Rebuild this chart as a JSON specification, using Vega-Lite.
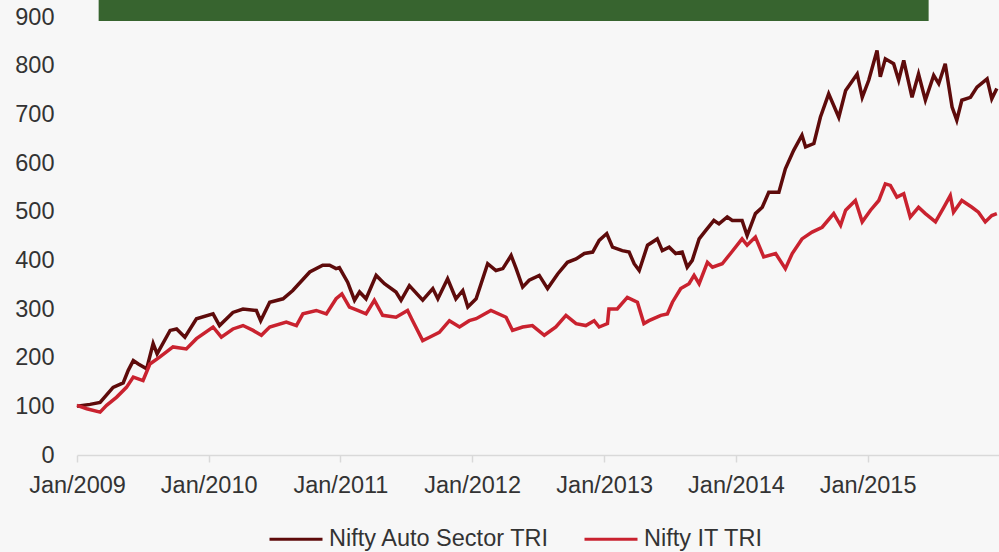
{
  "$schema": "https://vega.github.io/schema/vega-lite/v6.json",
  "width": 922,
  "height": 438,
  "autosize": {"type": "none"},
  "padding": {"left": 77, "top": 17, "right": 0, "bottom": 97},
  "background": "#f7f7f7",
  "config": {
    "font": "Liberation Sans",
    "view": {"stroke": null},
    "axis": {"labelFont": "Liberation Sans", "labelColor": "#333333", "labelFontSize": 23.5, "grid": false},
    "legend": {"labelFont": "Liberation Sans", "labelColor": "#333333", "labelFontSize": 23.5, "labelLimit": 500}
  },
  "datasets": {
    "tri": [
      {"date": "2009-01-01", "series": "Nifty Auto Sector TRI", "value": 100},
      {"date": "2009-02-06", "series": "Nifty Auto Sector TRI", "value": 104},
      {"date": "2009-03-06", "series": "Nifty Auto Sector TRI", "value": 108},
      {"date": "2009-04-11", "series": "Nifty Auto Sector TRI", "value": 139},
      {"date": "2009-05-09", "series": "Nifty Auto Sector TRI", "value": 148},
      {"date": "2009-05-23", "series": "Nifty Auto Sector TRI", "value": 174},
      {"date": "2009-06-06", "series": "Nifty Auto Sector TRI", "value": 194},
      {"date": "2009-06-20", "series": "Nifty Auto Sector TRI", "value": 187},
      {"date": "2009-07-13", "series": "Nifty Auto Sector TRI", "value": 177},
      {"date": "2009-07-31", "series": "Nifty Auto Sector TRI", "value": 229},
      {"date": "2009-08-11", "series": "Nifty Auto Sector TRI", "value": 208},
      {"date": "2009-09-16", "series": "Nifty Auto Sector TRI", "value": 256},
      {"date": "2009-10-04", "series": "Nifty Auto Sector TRI", "value": 259},
      {"date": "2009-10-27", "series": "Nifty Auto Sector TRI", "value": 242},
      {"date": "2009-11-28", "series": "Nifty Auto Sector TRI", "value": 280},
      {"date": "2010-01-13", "series": "Nifty Auto Sector TRI", "value": 290},
      {"date": "2010-01-31", "series": "Nifty Auto Sector TRI", "value": 266},
      {"date": "2010-03-09", "series": "Nifty Auto Sector TRI", "value": 293},
      {"date": "2010-04-06", "series": "Nifty Auto Sector TRI", "value": 300},
      {"date": "2010-05-13", "series": "Nifty Auto Sector TRI", "value": 297},
      {"date": "2010-05-25", "series": "Nifty Auto Sector TRI", "value": 276},
      {"date": "2010-06-19", "series": "Nifty Auto Sector TRI", "value": 314},
      {"date": "2010-07-26", "series": "Nifty Auto Sector TRI", "value": 321},
      {"date": "2010-08-22", "series": "Nifty Auto Sector TRI", "value": 338},
      {"date": "2010-10-08", "series": "Nifty Auto Sector TRI", "value": 376},
      {"date": "2010-11-13", "series": "Nifty Auto Sector TRI", "value": 390},
      {"date": "2010-12-02", "series": "Nifty Auto Sector TRI", "value": 390},
      {"date": "2010-12-20", "series": "Nifty Auto Sector TRI", "value": 383},
      {"date": "2010-12-29", "series": "Nifty Auto Sector TRI", "value": 385},
      {"date": "2011-01-21", "series": "Nifty Auto Sector TRI", "value": 355},
      {"date": "2011-02-09", "series": "Nifty Auto Sector TRI", "value": 318},
      {"date": "2011-02-23", "series": "Nifty Auto Sector TRI", "value": 335},
      {"date": "2011-03-13", "series": "Nifty Auto Sector TRI", "value": 321},
      {"date": "2011-04-10", "series": "Nifty Auto Sector TRI", "value": 369},
      {"date": "2011-05-03", "series": "Nifty Auto Sector TRI", "value": 352},
      {"date": "2011-06-04", "series": "Nifty Auto Sector TRI", "value": 335},
      {"date": "2011-06-18", "series": "Nifty Auto Sector TRI", "value": 318},
      {"date": "2011-07-11", "series": "Nifty Auto Sector TRI", "value": 348},
      {"date": "2011-08-17", "series": "Nifty Auto Sector TRI", "value": 318},
      {"date": "2011-09-14", "series": "Nifty Auto Sector TRI", "value": 342},
      {"date": "2011-09-28", "series": "Nifty Auto Sector TRI", "value": 321},
      {"date": "2011-10-25", "series": "Nifty Auto Sector TRI", "value": 362},
      {"date": "2011-11-17", "series": "Nifty Auto Sector TRI", "value": 321},
      {"date": "2011-12-06", "series": "Nifty Auto Sector TRI", "value": 338},
      {"date": "2011-12-20", "series": "Nifty Auto Sector TRI", "value": 304},
      {"date": "2012-01-12", "series": "Nifty Auto Sector TRI", "value": 321},
      {"date": "2012-02-13", "series": "Nifty Auto Sector TRI", "value": 393},
      {"date": "2012-03-07", "series": "Nifty Auto Sector TRI", "value": 379},
      {"date": "2012-03-26", "series": "Nifty Auto Sector TRI", "value": 383},
      {"date": "2012-04-18", "series": "Nifty Auto Sector TRI", "value": 410},
      {"date": "2012-05-02", "series": "Nifty Auto Sector TRI", "value": 383},
      {"date": "2012-05-20", "series": "Nifty Auto Sector TRI", "value": 345},
      {"date": "2012-06-07", "series": "Nifty Auto Sector TRI", "value": 359},
      {"date": "2012-07-05", "series": "Nifty Auto Sector TRI", "value": 369},
      {"date": "2012-07-28", "series": "Nifty Auto Sector TRI", "value": 342},
      {"date": "2012-08-25", "series": "Nifty Auto Sector TRI", "value": 372},
      {"date": "2012-09-21", "series": "Nifty Auto Sector TRI", "value": 396},
      {"date": "2012-10-15", "series": "Nifty Auto Sector TRI", "value": 403},
      {"date": "2012-11-07", "series": "Nifty Auto Sector TRI", "value": 414},
      {"date": "2012-11-30", "series": "Nifty Auto Sector TRI", "value": 417},
      {"date": "2012-12-18", "series": "Nifty Auto Sector TRI", "value": 441},
      {"date": "2013-01-08", "series": "Nifty Auto Sector TRI", "value": 455},
      {"date": "2013-01-24", "series": "Nifty Auto Sector TRI", "value": 427},
      {"date": "2013-02-20", "series": "Nifty Auto Sector TRI", "value": 420},
      {"date": "2013-03-11", "series": "Nifty Auto Sector TRI", "value": 417},
      {"date": "2013-03-25", "series": "Nifty Auto Sector TRI", "value": 393},
      {"date": "2013-04-08", "series": "Nifty Auto Sector TRI", "value": 379},
      {"date": "2013-05-01", "series": "Nifty Auto Sector TRI", "value": 431},
      {"date": "2013-05-28", "series": "Nifty Auto Sector TRI", "value": 444},
      {"date": "2013-06-11", "series": "Nifty Auto Sector TRI", "value": 420},
      {"date": "2013-06-30", "series": "Nifty Auto Sector TRI", "value": 427},
      {"date": "2013-07-18", "series": "Nifty Auto Sector TRI", "value": 414},
      {"date": "2013-08-05", "series": "Nifty Auto Sector TRI", "value": 417},
      {"date": "2013-08-19", "series": "Nifty Auto Sector TRI", "value": 386},
      {"date": "2013-09-02", "series": "Nifty Auto Sector TRI", "value": 400},
      {"date": "2013-09-21", "series": "Nifty Auto Sector TRI", "value": 444},
      {"date": "2013-10-09", "series": "Nifty Auto Sector TRI", "value": 461},
      {"date": "2013-11-01", "series": "Nifty Auto Sector TRI", "value": 482},
      {"date": "2013-11-15", "series": "Nifty Auto Sector TRI", "value": 475},
      {"date": "2013-12-08", "series": "Nifty Auto Sector TRI", "value": 489},
      {"date": "2013-12-22", "series": "Nifty Auto Sector TRI", "value": 482},
      {"date": "2014-01-18", "series": "Nifty Auto Sector TRI", "value": 482},
      {"date": "2014-02-01", "series": "Nifty Auto Sector TRI", "value": 451},
      {"date": "2014-02-24", "series": "Nifty Auto Sector TRI", "value": 496},
      {"date": "2014-03-15", "series": "Nifty Auto Sector TRI", "value": 509},
      {"date": "2014-04-02", "series": "Nifty Auto Sector TRI", "value": 540},
      {"date": "2014-04-30", "series": "Nifty Auto Sector TRI", "value": 540},
      {"date": "2014-05-18", "series": "Nifty Auto Sector TRI", "value": 588},
      {"date": "2014-06-10", "series": "Nifty Auto Sector TRI", "value": 626},
      {"date": "2014-07-03", "series": "Nifty Auto Sector TRI", "value": 657},
      {"date": "2014-07-13", "series": "Nifty Auto Sector TRI", "value": 633},
      {"date": "2014-08-05", "series": "Nifty Auto Sector TRI", "value": 640},
      {"date": "2014-08-23", "series": "Nifty Auto Sector TRI", "value": 694},
      {"date": "2014-09-15", "series": "Nifty Auto Sector TRI", "value": 742},
      {"date": "2014-10-13", "series": "Nifty Auto Sector TRI", "value": 694},
      {"date": "2014-11-01", "series": "Nifty Auto Sector TRI", "value": 749},
      {"date": "2014-12-03", "series": "Nifty Auto Sector TRI", "value": 783},
      {"date": "2014-12-17", "series": "Nifty Auto Sector TRI", "value": 735},
      {"date": "2015-01-04", "series": "Nifty Auto Sector TRI", "value": 770},
      {"date": "2015-01-27", "series": "Nifty Auto Sector TRI", "value": 831},
      {"date": "2015-02-05", "series": "Nifty Auto Sector TRI", "value": 777},
      {"date": "2015-02-19", "series": "Nifty Auto Sector TRI", "value": 814},
      {"date": "2015-03-14", "series": "Nifty Auto Sector TRI", "value": 804},
      {"date": "2015-03-28", "series": "Nifty Auto Sector TRI", "value": 770},
      {"date": "2015-04-11", "series": "Nifty Auto Sector TRI", "value": 811},
      {"date": "2015-05-04", "series": "Nifty Auto Sector TRI", "value": 735},
      {"date": "2015-05-22", "series": "Nifty Auto Sector TRI", "value": 783},
      {"date": "2015-06-10", "series": "Nifty Auto Sector TRI", "value": 729},
      {"date": "2015-07-03", "series": "Nifty Auto Sector TRI", "value": 780},
      {"date": "2015-07-17", "series": "Nifty Auto Sector TRI", "value": 763},
      {"date": "2015-08-04", "series": "Nifty Auto Sector TRI", "value": 804},
      {"date": "2015-08-23", "series": "Nifty Auto Sector TRI", "value": 715},
      {"date": "2015-09-05", "series": "Nifty Auto Sector TRI", "value": 688},
      {"date": "2015-09-19", "series": "Nifty Auto Sector TRI", "value": 729},
      {"date": "2015-10-13", "series": "Nifty Auto Sector TRI", "value": 735},
      {"date": "2015-10-31", "series": "Nifty Auto Sector TRI", "value": 756},
      {"date": "2015-11-28", "series": "Nifty Auto Sector TRI", "value": 773},
      {"date": "2015-12-11", "series": "Nifty Auto Sector TRI", "value": 732},
      {"date": "2015-12-25", "series": "Nifty Auto Sector TRI", "value": 753},
      {"date": "2009-01-01", "series": "Nifty IT TRI", "value": 102},
      {"date": "2009-01-28", "series": "Nifty IT TRI", "value": 95},
      {"date": "2009-03-06", "series": "Nifty IT TRI", "value": 88},
      {"date": "2009-03-24", "series": "Nifty IT TRI", "value": 102},
      {"date": "2009-04-21", "series": "Nifty IT TRI", "value": 119},
      {"date": "2009-05-18", "series": "Nifty IT TRI", "value": 139},
      {"date": "2009-06-06", "series": "Nifty IT TRI", "value": 160},
      {"date": "2009-07-03", "series": "Nifty IT TRI", "value": 153},
      {"date": "2009-07-22", "series": "Nifty IT TRI", "value": 187},
      {"date": "2009-08-18", "series": "Nifty IT TRI", "value": 201},
      {"date": "2009-09-24", "series": "Nifty IT TRI", "value": 222},
      {"date": "2009-10-31", "series": "Nifty IT TRI", "value": 218},
      {"date": "2009-11-28", "series": "Nifty IT TRI", "value": 239},
      {"date": "2010-01-13", "series": "Nifty IT TRI", "value": 263},
      {"date": "2010-02-05", "series": "Nifty IT TRI", "value": 242},
      {"date": "2010-03-09", "series": "Nifty IT TRI", "value": 259},
      {"date": "2010-04-06", "series": "Nifty IT TRI", "value": 266},
      {"date": "2010-05-04", "series": "Nifty IT TRI", "value": 256},
      {"date": "2010-05-27", "series": "Nifty IT TRI", "value": 246},
      {"date": "2010-06-19", "series": "Nifty IT TRI", "value": 263},
      {"date": "2010-08-04", "series": "Nifty IT TRI", "value": 273},
      {"date": "2010-09-01", "series": "Nifty IT TRI", "value": 266},
      {"date": "2010-09-19", "series": "Nifty IT TRI", "value": 290},
      {"date": "2010-10-26", "series": "Nifty IT TRI", "value": 297},
      {"date": "2010-11-23", "series": "Nifty IT TRI", "value": 290},
      {"date": "2010-12-20", "series": "Nifty IT TRI", "value": 321},
      {"date": "2011-01-05", "series": "Nifty IT TRI", "value": 331},
      {"date": "2011-01-26", "series": "Nifty IT TRI", "value": 304},
      {"date": "2011-02-18", "series": "Nifty IT TRI", "value": 297},
      {"date": "2011-03-13", "series": "Nifty IT TRI", "value": 290},
      {"date": "2011-04-05", "series": "Nifty IT TRI", "value": 318},
      {"date": "2011-04-28", "series": "Nifty IT TRI", "value": 287},
      {"date": "2011-06-04", "series": "Nifty IT TRI", "value": 283},
      {"date": "2011-07-06", "series": "Nifty IT TRI", "value": 297},
      {"date": "2011-07-20", "series": "Nifty IT TRI", "value": 276},
      {"date": "2011-08-17", "series": "Nifty IT TRI", "value": 235},
      {"date": "2011-09-05", "series": "Nifty IT TRI", "value": 242},
      {"date": "2011-10-02", "series": "Nifty IT TRI", "value": 252},
      {"date": "2011-10-30", "series": "Nifty IT TRI", "value": 276},
      {"date": "2011-11-27", "series": "Nifty IT TRI", "value": 263},
      {"date": "2011-12-24", "series": "Nifty IT TRI", "value": 276},
      {"date": "2012-01-12", "series": "Nifty IT TRI", "value": 280},
      {"date": "2012-02-22", "series": "Nifty IT TRI", "value": 297},
      {"date": "2012-04-04", "series": "Nifty IT TRI", "value": 283},
      {"date": "2012-04-22", "series": "Nifty IT TRI", "value": 256},
      {"date": "2012-05-20", "series": "Nifty IT TRI", "value": 263},
      {"date": "2012-06-16", "series": "Nifty IT TRI", "value": 266},
      {"date": "2012-07-19", "series": "Nifty IT TRI", "value": 246},
      {"date": "2012-08-20", "series": "Nifty IT TRI", "value": 263},
      {"date": "2012-09-17", "series": "Nifty IT TRI", "value": 287},
      {"date": "2012-10-15", "series": "Nifty IT TRI", "value": 270},
      {"date": "2012-11-11", "series": "Nifty IT TRI", "value": 266},
      {"date": "2012-12-04", "series": "Nifty IT TRI", "value": 276},
      {"date": "2012-12-18", "series": "Nifty IT TRI", "value": 263},
      {"date": "2013-01-10", "series": "Nifty IT TRI", "value": 270},
      {"date": "2013-01-14", "series": "Nifty IT TRI", "value": 300},
      {"date": "2013-02-06", "series": "Nifty IT TRI", "value": 300},
      {"date": "2013-03-06", "series": "Nifty IT TRI", "value": 324},
      {"date": "2013-04-03", "series": "Nifty IT TRI", "value": 314},
      {"date": "2013-04-21", "series": "Nifty IT TRI", "value": 270},
      {"date": "2013-05-05", "series": "Nifty IT TRI", "value": 276},
      {"date": "2013-06-07", "series": "Nifty IT TRI", "value": 287},
      {"date": "2013-06-25", "series": "Nifty IT TRI", "value": 290},
      {"date": "2013-07-09", "series": "Nifty IT TRI", "value": 314},
      {"date": "2013-08-01", "series": "Nifty IT TRI", "value": 342},
      {"date": "2013-08-24", "series": "Nifty IT TRI", "value": 352},
      {"date": "2013-09-07", "series": "Nifty IT TRI", "value": 369},
      {"date": "2013-09-21", "series": "Nifty IT TRI", "value": 352},
      {"date": "2013-10-14", "series": "Nifty IT TRI", "value": 396},
      {"date": "2013-10-28", "series": "Nifty IT TRI", "value": 386},
      {"date": "2013-11-24", "series": "Nifty IT TRI", "value": 393},
      {"date": "2013-12-17", "series": "Nifty IT TRI", "value": 414},
      {"date": "2014-01-18", "series": "Nifty IT TRI", "value": 444},
      {"date": "2014-02-01", "series": "Nifty IT TRI", "value": 431},
      {"date": "2014-02-24", "series": "Nifty IT TRI", "value": 448},
      {"date": "2014-03-19", "series": "Nifty IT TRI", "value": 407},
      {"date": "2014-04-21", "series": "Nifty IT TRI", "value": 414},
      {"date": "2014-05-18", "series": "Nifty IT TRI", "value": 383},
      {"date": "2014-06-06", "series": "Nifty IT TRI", "value": 414},
      {"date": "2014-07-03", "series": "Nifty IT TRI", "value": 444},
      {"date": "2014-07-31", "series": "Nifty IT TRI", "value": 458},
      {"date": "2014-08-28", "series": "Nifty IT TRI", "value": 468},
      {"date": "2014-09-29", "series": "Nifty IT TRI", "value": 496},
      {"date": "2014-10-18", "series": "Nifty IT TRI", "value": 472},
      {"date": "2014-11-01", "series": "Nifty IT TRI", "value": 503},
      {"date": "2014-11-28", "series": "Nifty IT TRI", "value": 523},
      {"date": "2014-12-17", "series": "Nifty IT TRI", "value": 479},
      {"date": "2015-01-09", "series": "Nifty IT TRI", "value": 503},
      {"date": "2015-02-01", "series": "Nifty IT TRI", "value": 523},
      {"date": "2015-02-19", "series": "Nifty IT TRI", "value": 557},
      {"date": "2015-03-05", "series": "Nifty IT TRI", "value": 554},
      {"date": "2015-03-23", "series": "Nifty IT TRI", "value": 530},
      {"date": "2015-04-11", "series": "Nifty IT TRI", "value": 537},
      {"date": "2015-04-29", "series": "Nifty IT TRI", "value": 489},
      {"date": "2015-05-22", "series": "Nifty IT TRI", "value": 509},
      {"date": "2015-06-10", "series": "Nifty IT TRI", "value": 496},
      {"date": "2015-07-08", "series": "Nifty IT TRI", "value": 479},
      {"date": "2015-07-31", "series": "Nifty IT TRI", "value": 509},
      {"date": "2015-08-18", "series": "Nifty IT TRI", "value": 533},
      {"date": "2015-08-27", "series": "Nifty IT TRI", "value": 499},
      {"date": "2015-09-19", "series": "Nifty IT TRI", "value": 523},
      {"date": "2015-10-17", "series": "Nifty IT TRI", "value": 509},
      {"date": "2015-11-04", "series": "Nifty IT TRI", "value": 499},
      {"date": "2015-11-23", "series": "Nifty IT TRI", "value": 479},
      {"date": "2015-12-11", "series": "Nifty IT TRI", "value": 492},
      {"date": "2015-12-25", "series": "Nifty IT TRI", "value": 496}
    ],
    "banner": [{"band": "header"}]
  },
  "layer": [
    {
      "data": {"name": "banner"},
      "mark": {"type": "rect", "color": "#37642f", "clip": false},
      "encoding": {
        "x": {"datum": {"year": 2009, "month": 3, "date": 2}, "type": "temporal"},
        "x2": {"datum": {"year": 2015, "month": 6, "date": 19}},
        "y": {"datum": 892, "type": "quantitative"},
        "y2": {"datum": 935}
      }
    },
    {
      "data": {"name": "tri"},
      "mark": {"type": "line", "strokeWidth": 3.5, "clip": false},
      "encoding": {
        "x": {
          "field": "date",
          "type": "temporal",
          "scale": {"domain": [{"year": 2009, "month": 1, "date": 1}, {"year": 2015, "month": 12, "date": 31}]},
          "axis": {
            "title": null,
            "format": "%b/%Y",
            "tickCount": {"interval": "year", "step": 1},
            "domainColor": "#d9d9d9",
            "domainWidth": 1.5,
            "tickColor": "#d9d9d9",
            "tickWidth": 1.5,
            "tickSize": 7,
            "labelPadding": 11,
            "labelFlush": false,
            "labelOverlap": false
          }
        },
        "y": {
          "field": "value",
          "type": "quantitative",
          "scale": {"domain": [0, 900], "nice": false},
          "axis": {
            "title": null,
            "values": [0, 100, 200, 300, 400, 500, 600, 700, 800, 900],
            "domain": false,
            "ticks": false,
            "tickSize": 0,
            "labelPadding": 23
          }
        },
        "color": {
          "field": "series",
          "type": "nominal",
          "scale": {"domain": ["Nifty Auto Sector TRI", "Nifty IT TRI"], "range": ["#5e0b0b", "#c9222f"]},
          "legend": {
            "title": null,
            "orient": "none",
            "legendX": 191,
            "legendY": 494,
            "direction": "horizontal",
            "symbolType": "stroke",
            "symbolSize": 2809,
            "symbolStrokeWidth": 3,
            "labelOffset": 5,
            "columnPadding": 28,
            "labelLimit": 500
          }
        }
      }
    }
  ]
}
